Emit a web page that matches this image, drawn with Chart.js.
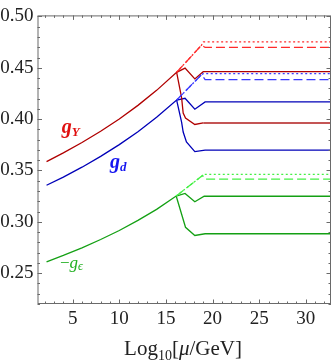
<!DOCTYPE html>
<html>
<head>
<meta charset="utf-8">
<script src="https://cdn.jsdelivr.net/npm/chart.js@4.4.0/dist/chart.umd.min.js"></script>
<style>
    html, body { margin: 0; padding: 0; background: #fff; }
    #wrap { width: 332px; height: 362px; }
</style>
</head>
<body>
<div id="wrap"><canvas id="chart" width="332" height="362"></canvas></div>
<script>
// tick labels
const xTicks = [5, 10, 15, 20, 25, 30];
const yTicks = [0.25, 0.30, 0.35, 0.40, 0.45, 0.50];

// g_Y (red)
const gyX = [2.2, 4, 6, 8, 10, 12, 14, 16.15, 17.05, 18.1, 19.0, 32.7];
const gyY = [0.3586, 0.3671, 0.3772, 0.3882, 0.4002, 0.4134, 0.4280, 0.4456, 0.4497, 0.4392, 0.4462, 0.4462];
const gyLowX = [16.15, 16.68, 16.85, 17.1, 18.1, 19.0, 32.7];
const gyLowY = [0.4456, 0.421, 0.406, 0.401, 0.3948, 0.3963, 0.3963];
const gyDotX = [16.15, 18.82, 19.0, 32.7];
const gyDotY = [0.4456, 0.4721, 0.4753, 0.4753];
const gyDashX = [16.15, 18.82, 19.2, 32.7];
const gyDashY = [0.4456, 0.4721, 0.4698, 0.4698];

// g_d (blue)
const gdX = [2.2, 4, 6, 8, 10, 12, 14, 16.15, 17.05, 18.1, 19.2, 32.7];
const gdY = [0.3356, 0.3436, 0.3532, 0.3637, 0.3752, 0.3878, 0.4018, 0.4186, 0.4203, 0.4097, 0.4168, 0.4168];
const gdLowX = [16.15, 16.68, 16.85, 17.2, 18.1, 19.2, 32.7];
const gdLowY = [0.4186, 0.397, 0.3874, 0.3778, 0.3684, 0.3698, 0.3698];
const gdDotX = [16.15, 18.82, 19.0, 32.7];
const gdDotY = [0.4186, 0.4433, 0.4443, 0.4443];
const gdDashX = [16.15, 18.82, 19.2, 32.7];
const gdDashY = [0.4186, 0.4433, 0.4385, 0.4385];

// -g_eps (green)
const geX = [2.2, 4, 6, 8, 10, 12, 14, 16.1, 17.05, 18.1, 19.1, 32.7];
const geY = [0.2611, 0.2673, 0.2747, 0.2828, 0.2916, 0.3014, 0.3121, 0.3251, 0.3277, 0.3196, 0.3249, 0.3249];
const geLowX = [16.1, 17.1, 18.1, 19.2, 32.7];
const geLowY = [0.3251, 0.2947, 0.2867, 0.2884, 0.2884];
const geDotX = [16.1, 18.93, 19.1, 32.7];
const geDotY = [0.3251, 0.3452, 0.3462, 0.3462];
const geDashX = [16.1, 18.93, 19.2, 32.7];
const geDashY = [0.3251, 0.3452, 0.3416, 0.3416];

const darkRed = '#b00000';
const lightRed = '#ff2a2a';
const darkBlue = '#0000b8';
const lightBlue = '#3a3aff';
const darkGreen = '#14a014';
const lightGreen = '#44f044';

function pts(xs, ys) {
    return xs.map((x, i) => ({ x: x, y: ys[i] }));
}

function line(xs, ys, color, dash, extra) {
    return Object.assign({
        data: pts(xs, ys),
        borderColor: color,
        borderWidth: 1.3,
        borderDash: dash,
        pointRadius: 0,
        fill: false,
        tension: 0
    }, extra || {});
}

const lowRedFlat = {
    segment: {
        borderColor: c => c.p0.parsed.x >= 18.9 ? '#c45555' : undefined,
        borderWidth: c => c.p0.parsed.x >= 18.9 ? 2 : undefined
    }
};

const datasets = [
    line(gyDotX, gyDotY, lightRed, [2, 2.5]),
    line(gyDashX, gyDashY, lightRed, [9, 4]),
    line(gdDotX, gdDotY, lightBlue, [2, 2.5]),
    line(gdDashX, gdDashY, lightBlue, [9, 4]),
    line(geDotX, geDotY, lightGreen, [2, 2.5]),
    line(geDashX, geDashY, lightGreen, [9, 4]),
    line(gyLowX, gyLowY, darkRed, [], lowRedFlat),
    line(gyX, gyY, darkRed, []),
    line(gdLowX, gdLowY, darkBlue, []),
    line(gdX, gdY, darkBlue, []),
    line(geLowX, geLowY, darkGreen, []),
    line(geX, geY, darkGreen, [])
];

const serif = '"Liberation Serif", "DejaVu Serif", serif';

function drawLabel(ctx, parts, x, y) {
    // parts: [text, font, color, dy]
    let cx = x;
    parts.forEach(p => {
        ctx.font = p[1];
        ctx.fillStyle = p[2];
        ctx.fillText(p[0], cx, y + p[3]);
        cx += ctx.measureText(p[0]).width;
    });
}

const framePlugin = {
    id: 'frame',
    afterDatasetsDraw(chart) {
        const ctx = chart.ctx;
        const a = chart.chartArea;
        const xs = chart.scales.x;
        const ys = chart.scales.y;
        ctx.save();
        ctx.strokeStyle = '#6a6a6a';
        ctx.lineWidth = 1;
        ctx.strokeRect(a.left + 0.5, a.top + 0.5, a.right - a.left - 1, a.bottom - a.top - 1);

        ctx.beginPath();
        for (let v = 2; v <= 32; v++) {
            const px = Math.round(xs.getPixelForValue(v)) + 0.5;
            const len = v % 5 === 0 ? 4.5 : 2.5;
            ctx.moveTo(px, a.bottom);
            ctx.lineTo(px, a.bottom - len);
            ctx.moveTo(px, a.top);
            ctx.lineTo(px, a.top + len);
        }
        for (let i = 22; i <= 50; i++) {
            const py = Math.round(ys.getPixelForValue(i / 100)) + 0.5;
            const len = i % 5 === 0 ? 4.5 : 2.5;
            ctx.moveTo(a.left, py);
            ctx.lineTo(a.left + len, py);
            ctx.moveTo(a.right, py);
            ctx.lineTo(a.right - len, py);
        }
        ctx.stroke();

        // curve labels
        ctx.textBaseline = 'alphabetic';
        ctx.textAlign = 'left';
        drawLabel(ctx, [
            ['g', 'bold italic 20px ' + serif, '#e01010', 0],
            ['Y', 'bold italic 13px ' + serif, '#e01010', 3]
        ], xs.getPixelForValue(3.83), ys.getPixelForValue(0.3864));
        drawLabel(ctx, [
            ['g', 'bold italic 20px ' + serif, '#1515f0', 0],
            ['d', 'bold italic 13px ' + serif, '#1515f0', 3]
        ], xs.getPixelForValue(9.0), ys.getPixelForValue(0.3529));
        drawLabel(ctx, [
            ['\u2212', '17px ' + serif, '#22b022', 0],
            ['g', 'italic 17px ' + serif, '#22b022', 0],
            ['\u03f5', 'italic 12px ' + serif, '#22b022', 2]
        ], xs.getPixelForValue(3.64), ys.getPixelForValue(0.2551));

        // axis title
        ctx.fillStyle = '#222';
        const parts = [
            ['Log', '21px ' + serif, 0],
            ['10', '14px ' + serif, 5],
            ['[', '21px ' + serif, 0],
            ['\u03bc', 'italic 21px ' + serif, 0],
            ['/GeV]', '21px ' + serif, 0]
        ];
        let w = 0;
        parts.forEach(p => { ctx.font = p[1]; w += ctx.measureText(p[0]).width; });
        let tx = 183 - w / 2;
        parts.forEach(p => {
            ctx.font = p[1];
            ctx.fillText(p[0], tx, 355 + p[2]);
            tx += ctx.measureText(p[0]).width;
        });
        ctx.restore();
    }
};

new Chart(document.getElementById('chart'), {
    type: 'line',
    data: { datasets: datasets },
    plugins: [framePlugin],
    options: {
        responsive: false,
        animation: false,
        devicePixelRatio: 1,
        layout: { padding: { top: 10, right: 1, left: 0, bottom: 0 } },
        plugins: { legend: { display: false }, tooltip: { enabled: false } },
        scales: {
            x: {
                type: 'linear',
                min: 1.23,
                max: 32.7,
                grid: { display: false, drawTicks: false },
                border: { display: false },
                afterFit: s => { s.height = 58; },
                afterBuildTicks: s => { s.ticks = xTicks.map(v => ({ value: v })); },
                ticks: {
                    padding: 4,
                    color: '#222',
                    font: { family: serif, size: 19 },
                    maxRotation: 0,
                    callback: v => String(v)
                }
            },
            y: {
                type: 'linear',
                min: 0.22,
                max: 0.501,
                grid: { display: false, drawTicks: false },
                border: { display: false },
                afterFit: s => { s.width = 37.5; },
                afterBuildTicks: s => { s.ticks = yTicks.map(v => ({ value: v })); },
                ticks: {
                    padding: 4,
                    color: '#222',
                    font: { family: serif, size: 19 },
                    callback: v => v.toFixed(2)
                }
            }
        }
    }
});
</script>
</body>
</html>
